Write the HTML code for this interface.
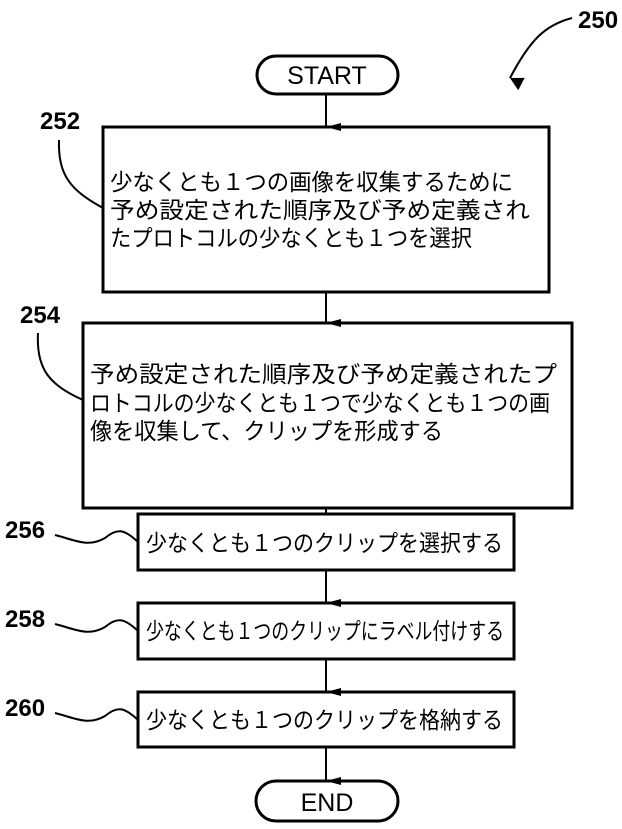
<!DOCTYPE html>
<html><head><meta charset="utf-8"><style>
body{margin:0;background:#fff}
svg text{font-family:"Liberation Sans","Noto Sans CJK JP",sans-serif;fill:#000}
.j{font-size:23px}
.n{font-size:24px;font-weight:bold}
</style></head><body>
<svg width="622" height="824" xmlns="http://www.w3.org/2000/svg">
<defs><marker id="a" markerWidth="8" markerHeight="16" refX="4" refY="15" orient="auto" markerUnits="userSpaceOnUse"><path d="M0,0 L4,15 L8,0 Z" fill="#000"/></marker>
<marker id="b" markerWidth="14" markerHeight="14" refX="7" refY="13" orient="auto" markerUnits="userSpaceOnUse"><path d="M0,0 L7,13 L14,0 Z" fill="#000"/></marker></defs>
<g fill="none" stroke="#000" stroke-width="3">
<rect x="257" y="56" width="141" height="38" rx="19"/>
<rect x="103" y="127" width="446" height="165"/>
<rect x="83" y="323" width="489" height="185"/>
<rect x="138" y="514" width="376" height="56"/>
<rect x="138" y="603" width="376" height="56"/>
<rect x="138" y="692" width="376" height="55"/>
<rect x="256" y="781" width="142" height="40" rx="20"/>
</g>
<g stroke="#000" stroke-width="2" fill="none">
<line x1="326" y1="94" x2="326" y2="127" marker-end="url(#a)"/>
<line x1="326" y1="292" x2="326" y2="323" marker-end="url(#a)"/>
<line x1="326" y1="508" x2="326" y2="514"/>
<line x1="326" y1="570" x2="326" y2="603" marker-end="url(#a)"/>
<line x1="326" y1="659" x2="326" y2="692" marker-end="url(#a)"/>
<line x1="326" y1="747" x2="326" y2="781" marker-end="url(#a)"/>
<path d="M59,140 C58,175 70,190 103,208"/>
<path d="M38,333 C36,370 50,385 83,400"/>
<path d="M55,535 C75,540 88,548 105,538 C118,527 125,530 138,542"/>
<path d="M55,624 C75,629 88,637 105,627 C118,616 125,619 138,631"/>
<path d="M55,713 C75,718 88,726 105,716 C118,705 125,708 138,720"/>
<path d="M572,18 C545,25 530,40 510,78" marker-end="url(#b)"/>
</g>
<text x="327" y="84" font-size="25" text-anchor="middle">START</text>
<text x="327" y="811" font-size="25" text-anchor="middle">END</text>
<text class="n" x="40" y="129">252</text>
<text class="n" x="20" y="323">254</text>
<text class="n" x="5" y="538">256</text>
<text class="n" x="5" y="627">258</text>
<text class="n" x="5" y="716">260</text>
<text class="n" x="578" y="28">250</text>
<text class="j" x="110" y="190" textLength="403" lengthAdjust="spacingAndGlyphs">少なくとも１つの画像を収集するために</text>
<text class="j" x="110" y="218" textLength="420" lengthAdjust="spacingAndGlyphs">予め設定された順序及び予め定義され</text>
<text class="j" x="110" y="246" textLength="362" lengthAdjust="spacingAndGlyphs">たプロトコルの少なくとも１つを選択</text>
<text class="j" x="90" y="382" textLength="467" lengthAdjust="spacingAndGlyphs">予め設定された順序及び予め定義されたプ</text>
<text class="j" x="90" y="411" textLength="460" lengthAdjust="spacingAndGlyphs">ロトコルの少なくとも１つで少なくとも１つの画</text>
<text class="j" x="90" y="439" textLength="353" lengthAdjust="spacingAndGlyphs">像を収集して、クリップを形成する</text>
<text class="j" x="146" y="551" textLength="357" lengthAdjust="spacingAndGlyphs">少なくとも１つのクリップを選択する</text>
<text class="j" x="146" y="639" textLength="358" lengthAdjust="spacingAndGlyphs">少なくとも１つのクリップにラベル付けする</text>
<text class="j" x="146" y="728" textLength="357" lengthAdjust="spacingAndGlyphs">少なくとも１つのクリップを格納する</text>
</svg>
</body></html>
